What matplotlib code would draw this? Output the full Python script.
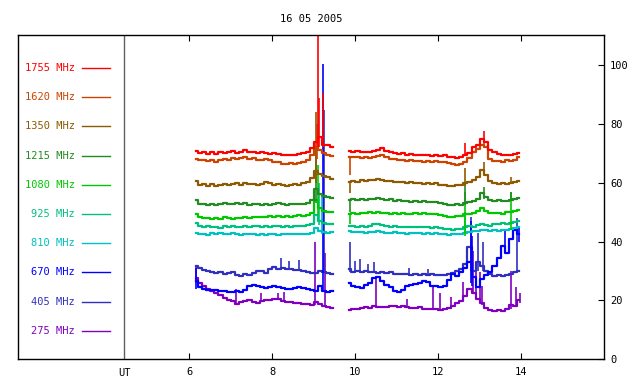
import numpy as np
import matplotlib
matplotlib.use('Agg')
import matplotlib.pyplot as plt
import matplotlib.transforms as mtransforms

plt.rcParams['font.family'] = 'DejaVu Sans Mono'

title = '16 05 2005'
labels = ['1755 MHz', '1620 MHz', '1350 MHz', '1215 MHz', '1080 MHz',
          '925 MHz', '810 MHz', '670 MHz', '405 MHz', '275 MHz']
colours = ['#ff0000', '#cc4400', '#8c5a00', '#228b22', '#00c800',
           '#00c080', '#00c0c0', '#0000ff', '#3030c0', '#8000c0']

# time grid (UT hours) of the two observing blocks
t1 = np.round(np.arange(6.15, 9.46, 0.1), 2)
t2 = np.round(np.arange(9.85, 13.96, 0.1), 2)

f1755_a = [70.8, 70.2, 70.5, 69.8, 70.3, 69.9, 70.6, 70.1, 70.4, 70.7, 70.2, 70.5, 71.0, 70.6, 70.3, 70.0, 70.4,
           70.2, 69.9, 70.1, 69.7, 69.4, 69.6, 69.3, 69.5, 69.8, 70.0, 70.6, 71.8, 74.0, 75.5, 73.0, 72.8, 72.2]
f1755_b = [70.8, 70.5, 70.9, 70.3, 70.6, 70.4, 70.8, 71.2, 71.8, 70.9, 70.5, 70.1, 69.9, 70.2, 69.6, 69.8, 69.4,
           69.6, 69.3, 69.5, 69.2, 69.4, 69.1, 69.3, 68.9, 68.6, 68.4, 68.8, 69.5, 70.2, 72.0, 72.8, 75.0, 74.0,
           71.2, 70.3, 69.8, 69.6, 69.3, 69.5, 69.8, 70.2]
f1755_spk = [(9.11, 72, 115), (9.13, 72, 89), (9.23, 72, 90.6), (12.64, 69, 73.5), (13.1, 74, 77.7)]

f1620_a = [68.2, 67.8, 67.6, 67.3, 67.9, 67.2, 67.6, 68.0, 67.7, 68.3, 68.0, 68.4, 68.6, 68.1, 68.3, 67.9, 67.7,
           68.0, 67.8, 66.9, 67.2, 66.5, 66.4, 66.7, 66.3, 66.6, 67.0, 67.8, 69.5, 72.0, 71.0, 70.2, 69.5, 69.0]
f1620_b = [68.9, 68.6, 68.9, 68.4, 68.7, 68.5, 68.8, 69.1, 69.4, 68.6, 68.2, 68.0, 67.8, 67.9, 67.5, 67.6, 67.3,
           67.5, 67.2, 67.4, 67.0, 67.3, 66.9, 67.1, 66.7, 66.4, 66.2, 66.5, 67.2, 68.5, 70.5, 71.5, 73.0, 72.0,
           68.0, 67.3, 67.5, 67.2, 67.6, 67.4, 67.8, 68.6]
f1620_spk = [(9.08, 68, 80), (9.86, 62.5, 69), (13.1, 72, 74.6)]

f1350_a = [60.5, 59.3, 59.6, 59.0, 59.5, 58.8, 59.4, 59.7, 59.2, 59.6, 59.8, 59.4, 59.9, 59.5, 59.7, 59.3, 59.6,
           60.2, 59.8, 59.4, 59.5, 59.2, 59.0, 59.3, 59.5, 59.4, 59.8, 60.3, 61.5, 64.0, 63.0, 62.2, 61.8, 61.2]
f1350_b = [60.3, 60.6, 60.4, 60.8, 60.5, 60.9, 61.0, 61.3, 60.9, 60.7, 60.5, 60.4, 60.1, 60.3, 59.9, 60.2, 59.8,
           60.0, 59.7, 59.9, 59.6, 59.8, 59.4, 59.2, 59.0, 58.9, 59.2, 59.1, 59.8, 60.2, 61.0, 62.0, 64.5, 62.5,
           60.5, 60.0, 59.6, 59.9, 59.5, 59.8, 60.2, 60.6]
f1350_spk = [(9.04, 60, 84), (9.86, 56.5, 60.3), (12.64, 59, 65), (13.1, 63, 67.2), (13.74, 59.5, 62)]

f1215_a = [54.0, 52.6, 52.9, 52.4, 52.8, 52.5, 52.9, 53.1, 52.6, 52.9, 53.2, 52.7, 53.0, 52.5, 52.9, 52.6, 52.4,
           52.8, 52.5, 52.9, 53.0, 52.7, 52.4, 52.8, 52.6, 52.9, 52.7, 53.1, 54.0, 58.0, 56.0, 55.5, 55.2, 54.8]
f1215_b = [54.0, 54.3, 54.1, 54.5, 54.2, 54.4, 54.6, 54.8, 54.3, 54.1, 54.3, 53.9, 54.0, 53.7, 53.9, 53.5, 53.8,
           53.4, 53.7, 53.5, 53.6, 53.3, 53.0, 52.7, 52.5, 52.3, 52.6, 52.4, 53.0, 53.4, 53.8, 54.5, 56.5, 55.0,
           54.2, 53.8, 54.0, 53.7, 53.9, 54.2, 54.5, 54.8]
f1215_spk = [(9.06, 53, 72), (9.86, 50, 54), (12.64, 52.4, 60), (13.1, 54.5, 58.7), (13.74, 53.7, 57)]

f1080_a = [49.5, 48.2, 47.9, 48.1, 47.7, 48.0, 47.8, 48.2, 48.0, 47.7, 48.1, 47.9, 48.3, 48.0, 48.2, 48.4, 48.5,
           48.3, 48.6, 48.4, 48.7, 48.5, 48.6, 48.4, 48.7, 48.9, 48.8, 49.1, 49.6, 54.0, 51.5, 50.5, 50.2, 50.0]
f1080_b = [49.4, 49.7, 49.5, 49.8, 49.6, 49.9, 49.7, 50.0, 49.6, 49.8, 49.5, 49.7, 49.4, 49.6, 49.3, 49.5, 49.7,
           49.4, 49.6, 49.3, 49.5, 49.2, 49.0, 48.7, 48.5, 48.3, 48.6, 48.8, 49.2, 49.5, 49.8, 50.3, 51.3, 50.5,
           49.8, 49.6, 49.8, 49.5, 49.9, 50.2, 50.5, 50.8]
f1080_spk = [(9.1, 49, 66), (9.86, 46, 49.4), (12.64, 42, 57), (13.74, 44, 57)]

f925_a = [46.2, 45.4, 45.0, 45.3, 44.8, 45.1, 44.7, 45.2, 44.9, 45.3, 45.1, 44.8, 45.3, 45.0, 45.4, 45.2, 44.9,
          45.3, 45.1, 45.4, 45.2, 45.0, 45.3, 45.1, 45.4, 45.2, 45.3, 45.5, 45.8, 49.0, 47.0, 46.2, 46.0, 45.8]
f925_b = [45.4, 45.2, 45.0, 45.3, 45.1, 45.4, 45.8, 46.0, 45.5, 45.2, 45.0, 45.2, 44.9, 45.1, 44.8, 45.0, 44.9,
          45.1, 44.8, 45.0, 44.7, 44.9, 44.6, 44.3, 44.1, 44.0, 44.2, 44.4, 45.0, 45.3, 45.0, 45.5, 45.8, 45.6,
          45.3, 45.8, 46.0, 46.2, 45.9, 46.3, 46.6, 47.0]
f925_spk = [(9.13, 45.5, 60), (12.64, 44, 50)]

f810_a = [42.8, 42.4, 42.7, 42.3, 42.9, 42.5, 43.0, 42.6, 42.4, 42.8, 42.5, 42.3, 42.7, 42.4, 42.6, 42.3, 42.5,
          42.2, 42.6, 42.4, 42.3, 42.7, 42.5, 42.4, 42.6, 42.5, 42.7, 42.6, 42.9, 44.5, 43.5, 43.2, 43.0, 43.1]
f810_b = [43.5, 43.3, 43.1, 43.3, 43.0, 43.2, 43.4, 43.6, 43.2, 43.0, 42.9, 43.1, 42.8, 43.0, 42.7, 42.9, 42.8,
          43.0, 42.7, 42.9, 42.6, 42.8, 42.6, 42.4, 42.3, 42.5, 42.4, 42.6, 43.0, 43.3, 43.5, 43.7, 44.0, 43.8,
          43.6, 43.9, 43.7, 44.0, 43.8, 44.2, 44.5, 44.8]
f810_spk = [(9.2, 42.6, 55), (12.64, 42.5, 46)]

f670_a = [26.5, 24.6, 24.0, 23.6, 23.4, 23.5, 23.3, 23.1, 22.9, 22.8, 23.0, 22.9, 23.4, 25.0, 25.3, 24.7, 24.5,
          24.2, 24.6, 24.8, 24.4, 24.3, 24.0, 23.7, 24.1, 24.6, 24.3, 23.8, 23.5, 23.2, 25.0, 23.0, 22.9, 23.2]
f670_b = [25.8, 25.0, 24.6, 24.3, 25.2, 26.0, 27.5, 27.8, 26.5, 25.3, 24.4, 23.2, 22.9, 23.4, 24.8, 25.3, 25.6,
          25.8, 26.6, 26.2, 25.0, 24.8, 24.6, 25.0, 27.0, 28.8, 28.2, 29.5, 31.0, 33.0, 28.0, 24.5, 27.4, 28.5,
          29.7, 31.8, 34.5, 38.5, 36.0, 41.0, 44.0, 42.5]
f670_spk = [(6.17, 24, 31), (9.22, 23, 100.5), (12.78, 26, 47), (12.82, 25, 42), (13.6, 36, 44), (13.93, 40, 45)]

f405_a = [31.8, 31.0, 30.2, 29.9, 29.6, 29.3, 29.5, 29.1, 29.4, 29.7, 28.6, 28.3, 29.0, 28.7, 29.3, 29.8, 30.0,
          29.4, 30.6, 31.2, 30.8, 31.1, 30.7, 30.5, 30.2, 30.4, 29.8, 29.5, 29.2, 29.3, 30.0, 29.6, 29.3, 29.1]
f405_b = [30.5, 29.7, 29.9, 29.6, 29.8, 29.5, 29.7, 29.4, 29.6, 29.3, 29.5, 29.1, 29.0, 28.8, 28.9, 28.6, 28.8,
          28.7, 28.9, 28.6, 28.8, 28.5, 28.7, 28.6, 28.9, 29.4, 29.8, 30.5, 32.5, 38.0, 30.0, 33.0, 31.5, 30.0,
          29.0, 28.3, 28.5, 28.2, 28.6, 29.0, 29.5, 29.8]
f405_spk = [(8.2, 30.8, 34.5), (8.4, 30.5, 33.5), (8.65, 30, 33.8), (9.25, 29.6, 84.8), (9.87, 29.7, 40),
            (10.0, 29.7, 33.5), (10.12, 29.6, 34), (10.3, 29.5, 32.5), (10.45, 29.6, 33), (11.3, 28.6, 31),
            (11.75, 28.6, 30.5), (12.78, 30, 48.5), (12.95, 30, 43), (13.08, 30, 40), (13.9, 29.5, 48)]

f275_a = [27.5, 26.0, 24.8, 23.9, 23.2, 22.5, 21.8, 20.8, 20.1, 19.6, 18.9, 19.3, 19.8, 20.2, 19.5, 19.2, 19.6,
          20.1, 20.0, 20.6, 20.3, 19.8, 19.4, 19.5, 19.0, 19.2, 18.9, 18.6, 18.4, 19.5, 18.8, 18.2, 17.8, 17.4]
f275_b = [16.7, 16.9, 17.2, 17.4, 17.6, 17.5, 17.9, 17.7, 17.8, 17.6, 17.9, 18.0, 17.7, 17.9, 17.6, 17.4, 17.3,
          17.6, 17.0, 17.2, 16.9, 17.1, 16.8, 17.2, 17.5, 18.2, 19.2, 19.8, 21.5, 24.0, 22.5, 20.5, 19.0, 17.5,
          16.8, 16.3, 16.6, 16.4, 16.9, 18.5, 18.0, 20.0]
f275_spk = [(6.17, 26, 32), (7.12, 19, 24), (7.72, 19.5, 22.5), (8.13, 20.3, 22.5), (8.27, 19.8, 22.8),
            (9.02, 18.5, 40), (9.27, 18.2, 36), (10.5, 17.6, 28), (11.25, 17.4, 20.5), (11.88, 16.9, 24.5),
            (12.05, 16.9, 22.5), (12.3, 17.2, 21), (12.6, 19.8, 26.3), (12.84, 22, 36.6), (12.9, 21, 30),
            (13.0, 19, 29.7), (13.05, 18.5, 25), (13.75, 16.9, 30), (13.87, 18, 24.5), (13.97, 19, 22.5)]

series = [(f1755_a, f1755_b, f1755_spk), (f1620_a, f1620_b, f1620_spk), (f1350_a, f1350_b, f1350_spk),
          (f1215_a, f1215_b, f1215_spk), (f1080_a, f1080_b, f1080_spk), (f925_a, f925_b, f925_spk),
          (f810_a, f810_b, f810_spk), (f670_a, f670_b, f670_spk), (f405_a, f405_b, f405_spk),
          (f275_a, f275_b, f275_spk)]

fig = plt.figure(figsize=(6.4, 3.84), dpi=100)
ax = fig.add_axes([0.0285, 0.065, 0.916, 0.844])

# draw low frequencies first so the high ones sit on top
for (a, b, spk), col in reversed(list(zip(series, colours))):
    ax.plot(t1, a, color=col, lw=1.6, drawstyle='steps-mid')
    ax.plot(t2, b, color=col, lw=1.6, drawstyle='steps-mid')
    st = [s[0] for s in spk]
    ax.vlines(st, [s[1] for s in spk], [s[2] for s in spk], color=col, lw=1.2)

# legend block on the left
for i, (lab, col) in enumerate(zip(labels, colours)):
    yy = 0.898 - i * 0.0901
    ax.text(0.097, yy, lab, color=col, fontsize=7.5, ha='right', va='center', transform=ax.transAxes)
    ax.plot([0.109, 0.157], [yy, yy], color=col, lw=1.0, transform=ax.transAxes)

ax.axvline(4.43, color='#606060', lw=1.0)
trans = mtransforms.blended_transform_factory(ax.transData, ax.transAxes)
ax.text(4.43, -0.028, 'UT', fontsize=7.5, ha='center', va='top', transform=trans)

ax.set_xlim(1.88, 16.0)
ax.set_ylim(0, 110.3)
ax.set_xticks([6, 8, 10, 12, 14])
ax.set_yticks([0, 20, 40, 60, 80, 100])
ax.tick_params(axis='x', direction='in', length=4, top=True, labelsize=7.5, pad=6)
ax.tick_params(axis='y', direction='in', length=4, left=False, right=True,
               labelleft=False, labelright=True, labelsize=7.5, pad=4)
for sp in ax.spines.values():
    sp.set_linewidth(1.0)

ax.set_title(title, fontsize=7.5, pad=9)

fig.savefig('out.png', dpi=100)
